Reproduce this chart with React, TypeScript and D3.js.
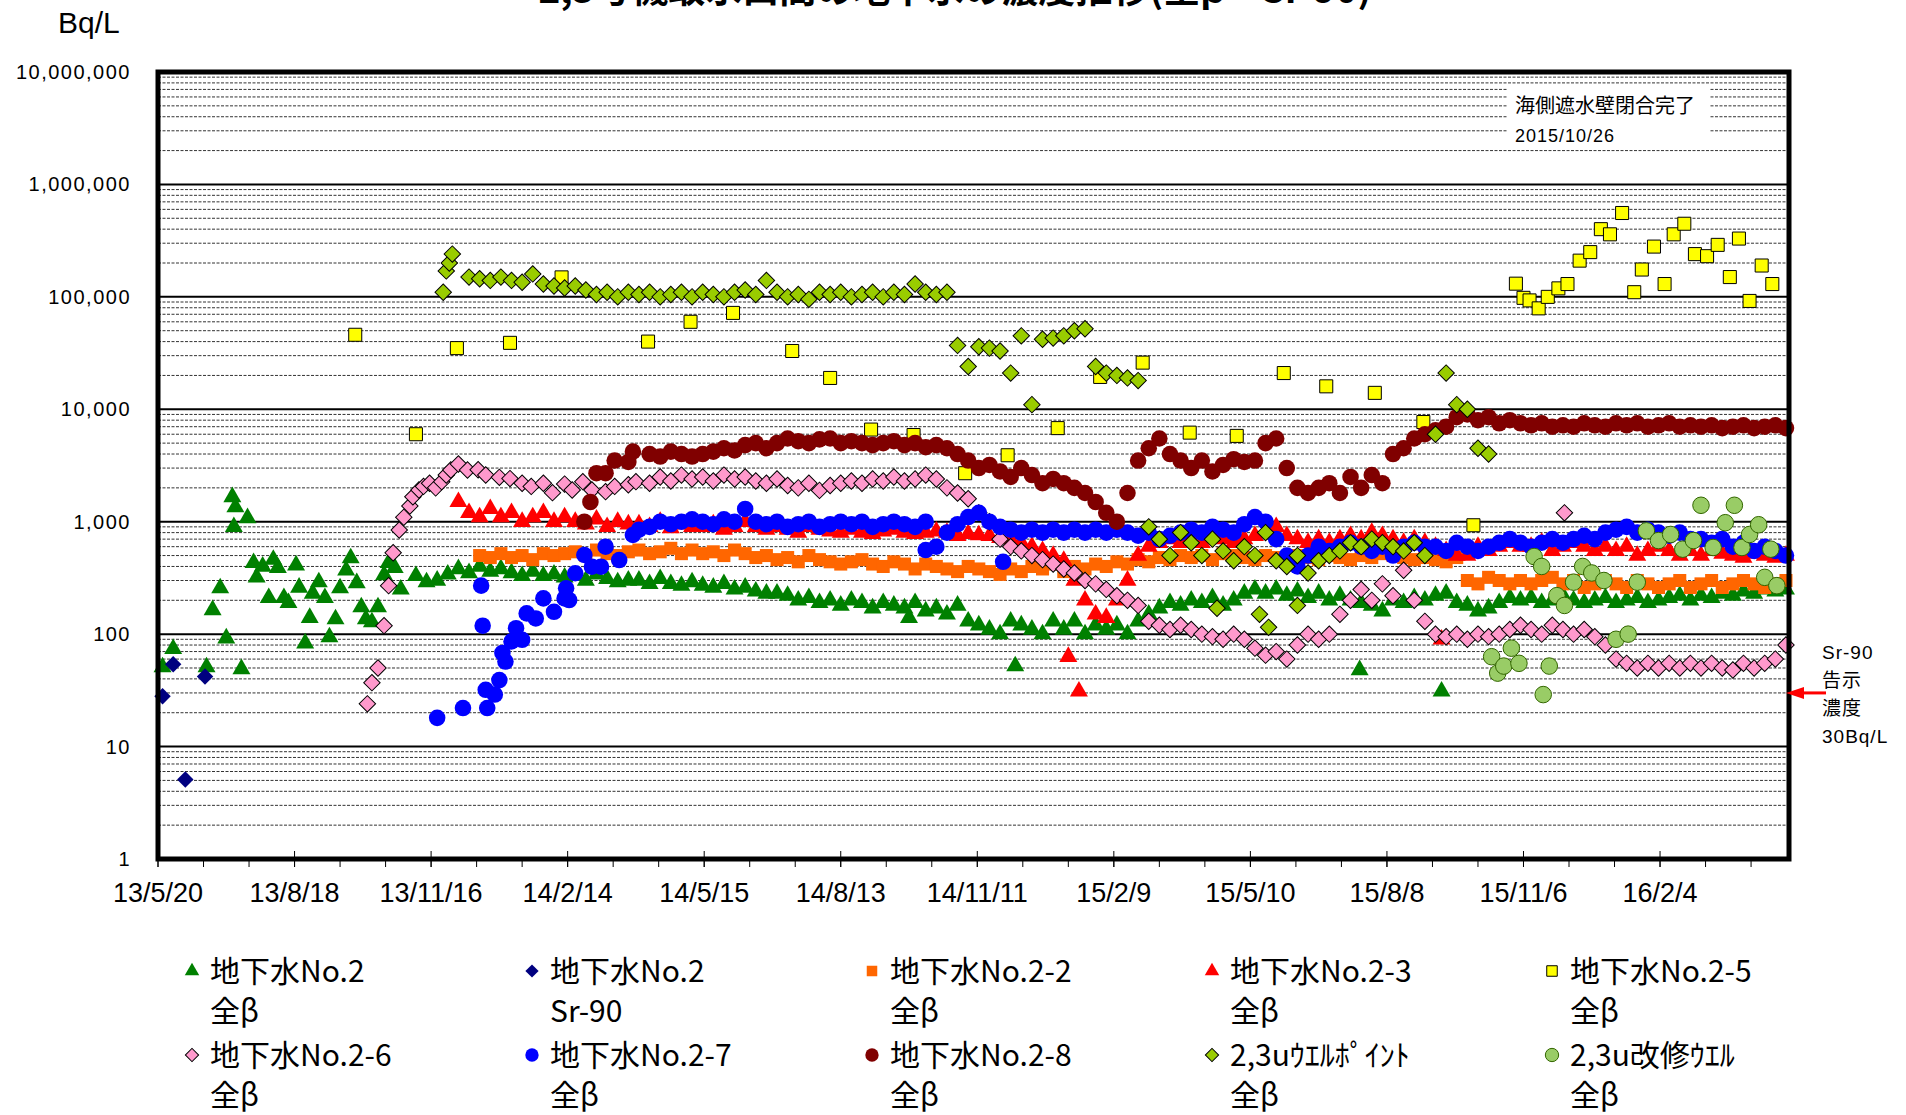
import React from 'react';
import * as d3 from 'd3';

// chart frame, page coords
const W = 1906;
const H = 1115;
const PL = 158, PR = 1789, PT = 72, PB = 859;

const X_START = "13/5/20";
const X_END = "16/4/29";
const X_TICKS = ["13/5/20", "13/8/18", "13/11/16", "14/2/14", "14/5/15", "14/8/13", "14/11/11", "15/2/9", "15/5/10", "15/8/8", "15/11/6", "16/2/4"];
const Y_TICKS = [1, 10, 100, 1000, 10000, 100000, 1000000, 10000000];

// weekly sampling dates shared by the dense series
const WEEKS = [
  "13/11/6", "13/11/13", "13/11/20", "13/11/27", "13/12/4", "13/12/11", "13/12/18", "13/12/25",
  "14/1/1", "14/1/8", "14/1/15", "14/1/22", "14/1/29", "14/2/5", "14/2/12", "14/2/19", "14/2/26", "14/3/5", "14/3/12", "14/3/19", "14/3/26",
  "14/4/2", "14/4/9", "14/4/16", "14/4/23", "14/4/30", "14/5/7", "14/5/14", "14/5/21", "14/5/28", "14/6/4", "14/6/11", "14/6/18", "14/6/25",
  "14/7/2", "14/7/9", "14/7/16", "14/7/23", "14/7/30", "14/8/6", "14/8/13", "14/8/20", "14/8/27", "14/9/3", "14/9/10", "14/9/17", "14/9/24",
  "14/10/1", "14/10/8", "14/10/15", "14/10/22", "14/10/29", "14/11/5", "14/11/12", "14/11/19", "14/11/26", "14/12/3", "14/12/10", "14/12/17", "14/12/24", "14/12/31",
  "15/1/7", "15/1/14", "15/1/21", "15/1/28", "15/2/4", "15/2/11", "15/2/18", "15/2/25", "15/3/4", "15/3/11", "15/3/18", "15/3/25",
  "15/4/1", "15/4/8", "15/4/15", "15/4/22", "15/4/29", "15/5/6", "15/5/13", "15/5/20", "15/5/27", "15/6/3", "15/6/10", "15/6/17", "15/6/24",
  "15/7/1", "15/7/8", "15/7/15", "15/7/22", "15/7/29", "15/8/5", "15/8/12", "15/8/19", "15/8/26", "15/9/2", "15/9/9", "15/9/16", "15/9/23", "15/9/30",
  "15/10/7", "15/10/14", "15/10/21", "15/10/28", "15/11/4", "15/11/11", "15/11/18", "15/11/25", "15/12/2", "15/12/9", "15/12/16", "15/12/23", "15/12/30",
  "16/1/6", "16/1/13", "16/1/20", "16/1/27", "16/2/3", "16/2/10", "16/2/17", "16/2/24", "16/3/2", "16/3/9", "16/3/16", "16/3/23", "16/3/30",
  "16/4/6", "16/4/13", "16/4/20", "16/4/27",
];

const _ = null;

// 地下水No.2 全β
const NO2_EARLY = [
  ["13/5/23", 51], ["13/5/30", 74], ["13/6/21", 51], ["13/6/25", 164], ["13/6/30", 257], ["13/7/4", 92], ["13/7/8", 1660],
  ["13/7/10", 1350], ["13/7/9", 900], ["13/7/18", 1080], ["13/7/14", 49], ["13/7/22", 430], ["13/7/24", 320], ["13/7/28", 400],
  ["13/8/1", 210], ["13/8/4", 460], ["13/8/7", 390], ["13/8/11", 210], ["13/8/14", 190], ["13/8/19", 410], ["13/8/21", 260],
  ["13/8/25", 83], ["13/8/28", 140], ["13/8/30", 230], ["13/9/3", 290], ["13/9/7", 210], ["13/9/10", 94], ["13/9/14", 136],
  ["13/9/17", 257], ["13/9/21", 370], ["13/9/24", 475], ["13/9/28", 285], ["13/10/1", 174], ["13/10/4", 136], ["13/10/8", 128],
  ["13/10/12", 174], ["13/10/16", 336], ["13/10/19", 430], ["13/10/23", 390], ["13/10/27", 250],
  ["14/9/27", 140], ["14/12/6", 52], ["15/7/21", 48], ["15/9/13", 31],
];
const NO2_WEEKLY = [
  330, 290, 300, 340, 380, 350, 400, 360,
  380, 350, 330, 360, 330, 340,
  320, 330, 300, 340, 310, 290, 300,
  300, 280, 310, 280, 270, 290,
  270, 260, 280, 250, 260, 240, 230,
  230, 220, 200, 210, 190, 200, 180,
  200, 190, 170, 190, 180, 170, 190, 160,
  170, 150, 180, 130, 120,
  110, 100, 130, 120, 110, 100, 130,
  110, 130, 100, 120, 110, 120,
  100, 130, 150, 170, 190, 180,
  200, 190, 210, 180, 200, 230, 250,
  230, 250, 220, 240, 210, 230, 200, 220,
  200, 190, 180, 160, 200, 190, 210, 200,
  220, 230, 190, 180, 160, 170, 190, 210, 200,
  210, 190, 200, 220, 200, 190, 200, 210,
  190, 200, 210, 190, 200, 210, 220, 200,
  220, 210, 230, 220, 240, 230, 250, 240, 250,
];

// 地下水No.2 Sr-90
const NO2_SR90 = [["13/5/23", 28], ["13/5/30", 54], ["13/6/7", 5.1], ["13/6/20", 42]];

// 地下水No.2-2 全β
const NO2_2_WEEKLY = [
  _, _, _, _, _, _, 500, 480,
  520, 480, 500, 460, 520, 500,
  520, 540, 500, 560, 520, 500, 540,
  560, 520, 540, 580, 520, 560,
  520, 540, 500, 560, 520, 480, 500,
  460, 480, 440, 500, 460, 440, 420,
  440, 460, 420, 400, 440, 420, 380, 420,
  400, 380, 360, 400, 380,
  360, 340, 380, 360, 400, 380, 420,
  360, 400, 380, 420, 400, 440,
  420, 460, 440, 480, 460, 500,
  480, 500, 460, 520, 500, 480, 460,
  500, 480, 460, 500, 480, 460, 500, 480,
  460, 500, 480, 520, 500, 480, 460, 480,
  460, 440, 480, 300, 280, 320, 300, 280, 300,
  280, 300, 320, 280, 300, 260, 280, 300,
  280, 260, 300, 280, 260, 280, 300, 260,
  280, 300, 260, 280, 300, 280, 260, 280, 300,
];

// 地下水No.2-3 全β
const NO2_3_EXTRA = [["15/1/10", 63], ["15/1/17", 31], ["15/9/13", 90]];
const NO2_3_WEEKLY = [
  _, _, _, _, 1500, 1200, 1100, 1300,
  1100, 1200, 1000, 1100, 1200, 1000,
  1100, 1000, 950, 1050, 900, 1000, 950,
  950, 900, 1000, 880, 950, 900,
  900, 950, 850, 900, 1000, 900, 850,
  900, 850, 800, 900, 850, 820, 800,
  850, 800, 780, 820, 850, 800, 780, 800,
  820, 800, 750, 780, 760,
  750, 720, 700, 650, 600, 550, 500,
  450, 300, 200, 150, 140, 200,
  300, 500, 600, 650, 700, 650,
  700, 650, 750, 700, 650, 700, 750,
  800, 900, 750, 700, 650, 700, 650, 700,
  750, 700, 800, 750, 700, 650, 700, 650,
  600, 550, 500, 500, 600, 550, 600, 650, 600,
  600, 650, 550, 600, 650, 600, 550, 600,
  550, 600, 500, 550, 600, 550, 500, 550,
  500, 550, 520, 500, 480, 520, 500, 480, 500,
];

// 地下水No.2-5 全β
const NO2_5 = [
  ["13/9/27", 46000], ["13/11/6", 6000], ["13/12/3", 35000], ["14/1/7", 39000], ["14/2/10", 149000], ["14/4/8", 40000],
  ["14/5/6", 60000], ["14/6/3", 72000], ["14/7/12", 33000], ["14/8/6", 19000], ["14/9/2", 6600], ["14/9/30", 5900],
  ["14/11/3", 2700], ["14/12/1", 3900], ["15/1/3", 6800], ["15/1/31", 19400], ["15/2/28", 26000], ["15/3/31", 6200],
  ["15/5/1", 5800], ["15/6/1", 21000], ["15/6/29", 16000], ["15/7/31", 14000], ["15/9/1", 7700], ["15/10/4", 930],
  ["15/11/1", 131000], ["15/11/6", 98000], ["15/11/10", 93000], ["15/11/16", 79000], ["15/11/22", 100000], ["15/11/29", 119000],
  ["15/12/5", 130000], ["15/12/13", 210000], ["15/12/20", 250000], ["15/12/27", 400000], ["16/1/2", 360000], ["16/1/10", 557000],
  ["16/1/18", 110000], ["16/1/23", 175000], ["16/1/31", 280000], ["16/2/7", 130000], ["16/2/13", 360000], ["16/2/20", 447000],
  ["16/2/27", 240000], ["16/3/6", 230000], ["16/3/13", 290000], ["16/3/21", 150000], ["16/3/27", 330000], ["16/4/3", 92000],
  ["16/4/11", 190000], ["16/4/18", 130000],
];

// 地下水No.2-6 全β
const NO2_6_EARLY = [
  ["13/10/5", 24], ["13/10/8", 37], ["13/10/12", 50], ["13/10/16", 119], ["13/10/19", 270], ["13/10/22", 530], ["13/10/26", 844],
  ["13/10/29", 1094], ["13/11/2", 1380], ["13/11/4", 1668], ["13/11/8", 1915], ["13/11/11", 2060], ["13/11/15", 2197],
  ["13/11/19", 2000], ["13/11/23", 2270], ["13/11/26", 2605], ["13/11/29", 2885], ["13/12/4", 3260], ["13/12/10", 2885],
  ["13/12/17", 2900], ["13/12/22", 2605], ["13/12/31", 2483], ["14/1/7", 2420], ["14/1/15", 2200], ["14/1/21", 2060],
  ["14/1/29", 2200], ["14/2/4", 1812], ["14/2/12", 2160], ["14/2/17", 1915], ["14/2/24", 2270], ["14/3/2", 1915],
  ["14/3/11", 1850], ["14/3/17", 2060], ["14/3/26", 2130], ["14/3/31", 2270], ["15/12/3", 1200],
];
const NO2_6_WEEKLY = [
  _, _, _, _, _, _, _, _,
  _, _, _, _, _, _,
  _, _, _, _, _, _, _,
  _, 2200, 2500, 2300, 2600, 2400,
  2500, 2300, 2600, 2400, 2500, 2300, 2200,
  2400, 2100, 2000, 2200, 1900, 2100, 2200,
  2300, 2200, 2400, 2300, 2500, 2300, 2400, 2600,
  2400, 2000, 1800, 1600, 1200,
  1000, 700, 600, 550, 500, 460, 420,
  380, 350, 300, 280, 250, 220,
  200, 180, 130, 120, 110, 120,
  110, 100, 95, 90, 100, 90, 75,
  65, 70, 60, 80, 100, 90, 100, 150,
  200, 250, 200, 280, 220, 370, 200, 130,
  100, 95, 100, 90, 100, 95, 100, 110, 120,
  110, 100, 120, 110, 100, 110, 95, 80,
  60, 55, 50, 55, 50, 55, 50, 55,
  50, 55, 50, 48, 55, 50, 55, 60, 80,
];

// 地下水No.2-7 全β
const NO2_7_EARLY = [
  ["13/11/20", 18], ["13/12/7", 22], ["13/12/19", 270], ["13/12/20", 119], ["13/12/23", 22], ["13/12/22", 32], ["13/12/28", 29],
  ["13/12/31", 39], ["14/1/4", 57], ["14/1/2", 68], ["14/1/8", 86], ["14/1/15", 89], ["14/1/11", 113], ["14/1/18", 153],
  ["14/1/24", 138], ["14/1/29", 208], ["14/2/5", 158], ["14/2/12", 208], ["14/2/15", 201], ["14/2/13", 256], ["14/2/19", 348],
  ["14/2/25", 506], ["14/3/2", 398], ["14/3/8", 398], ["14/3/11", 600], ["14/3/20", 456], ["14/3/29", 762],
  ["14/10/8", 560], ["14/11/28", 440],
];
const NO2_7_WEEKLY = [
  _, _, _, _, _, _, _, _,
  _, _, _, _, _, _,
  _, _, _, _, _, _, _,
  850, 900, 1000, 950, 1000, 1050,
  1000, 950, 1050, 1000, 1300, 1000, 950,
  1000, 900, 950, 1000, 900, 950, 1000,
  950, 1000, 900, 950, 1000, 950, 900, 1000,
  600, 800, 950, 1100, 1200,
  1000, 900, 850, 800, 850, 800, 850,
  800, 850, 800, 850, 800, 850,
  800, 750, 800, 700, 750, 800,
  850, 800, 900, 850, 800, 950, 1100,
  1000, 700, 500, 400, 500, 600, 550, 600,
  650, 600, 550, 600, 500, 600, 650, 600,
  600, 550, 650, 600, 550, 600, 650, 700, 650,
  600, 650, 700, 650, 700, 750, 700, 800,
  850, 900, 800, 850, 800, 750, 800, 700,
  700, 650, 700, 600, 650, 550, 600, 550, 500,
];

// 地下水No.2-8 全β
const NO2_8_EARLY = [["14/2/25", 1000], ["14/3/1", 1500], ["14/3/5", 2700], ["14/3/11", 2700], ["14/3/17", 3500], ["14/3/26", 3400], ["14/3/29", 4200]];
const NO2_8_WEEKLY = [
  _, _, _, _, _, _, _, _,
  _, _, _, _, _, _,
  _, _, _, _, _, _, _,
  _, 4000, 3800, 4200, 4000, 3800,
  4000, 4200, 4500, 4300, 4800, 5000, 4500,
  5000, 5500, 5200, 5000, 5400, 5500, 5000,
  5200, 5000, 4800, 5000, 5200, 4800, 5000, 4600,
  4800, 4500, 4000, 3500, 3000,
  3200, 2800, 2500, 3000, 2600, 2200, 2400,
  2200, 2000, 1800, 1500, 1200, 1000,
  1800, 3500, 4500, 5500, 4000, 3500,
  3000, 3500, 2800, 3200, 3600, 3400, 3500,
  5000, 5500, 3000, 2000, 1800, 2000, 2200, 1800,
  2500, 2000, 2600, 2200, 4000, 4500, 5500, 6000,
  6500, 7000, 8500, 9000, 8000, 8500, 7500, 8000, 7500,
  7200, 7500, 7000, 7200, 7000, 7500, 7200, 7000,
  7500, 7200, 7500, 7000, 7200, 7500, 7000, 7200,
  7000, 7200, 6800, 7000, 7200, 6800, 7000, 7200, 6800,
];

// 2,3uウエルポイント 全β
const WP_EXTRA = [
  ["13/11/24", 110000], ["13/11/26", 170000], ["13/11/28", 200000], ["13/11/30", 240000],
  ["15/4/18", 170], ["15/5/16", 150], ["15/5/22", 115], ["15/6/10", 180],
];
const WP_WEEKLY = [
  _, _, _, _, _, 150000, 145000, 140000,
  150000, 140000, 135000, 160000, 130000, 125000,
  120000, 125000, 115000, 105000, 110000, 100000, 110000,
  105000, 110000, 100000, 105000, 110000, 100000,
  110000, 105000, 100000, 110000, 115000, 105000, 140000,
  110000, 100000, 105000, 95000, 110000, 105000, 110000,
  100000, 105000, 110000, 100000, 110000, 105000, 130000, 110000,
  105000, 110000, 37000, 24000, 36000,
  35000, 33000, 21000, 45000, 11000, 42000, 43000,
  45000, 50000, 52000, 24000, 21000, 20000,
  19000, 18000, 900, 700, 500, 800,
  650, 500, 700, 550, 450, 600, 500,
  800, 450, 400, 500, 350, 450, 500, 550,
  650, 600, 700, 650, 600, 550, 650, 500,
  6000, 21000, 11000, 10000, 4500, 4000, _, _, _,
  _, _, _, _, _, _, _, _,
  _, _, _, _, _, _, _, _,
  _, _, _, _, _, _, _, _, _,
];

// 2,3u改修ウエル 全β
const KAISHU = [
  ["15/10/16", 63], ["15/10/20", 45], ["15/10/24", 52], ["15/10/29", 75], ["15/11/3", 55], ["15/11/13", 490], ["15/11/18", 400],
  ["15/11/19", 29], ["15/11/23", 52], ["15/11/28", 220], ["15/12/3", 180], ["15/12/9", 290], ["15/12/15", 400], ["15/12/21", 350],
  ["15/12/29", 300], ["16/1/6", 90], ["16/1/14", 100], ["16/1/20", 290], ["16/1/26", 830], ["16/2/3", 680], ["16/2/11", 770],
  ["16/2/19", 570], ["16/2/26", 680], ["16/3/2", 1400], ["16/3/10", 590], ["16/3/18", 980], ["16/3/24", 1400], ["16/3/29", 590],
  ["16/4/3", 770], ["16/4/9", 940], ["16/4/13", 320], ["16/4/17", 570], ["16/4/21", 270],
];

const parse = d3.timeParse("%y/%m/%d");

const fromPairs = (pairs) => pairs.map(([d, v]) => ({ date: parse(d), value: v }));
const fromWeekly = (vals) =>
  vals.map((v, i) => ({ date: parse(WEEKS[i]), value: v })).filter((p) => p.value != null);

const SERIES = [
  { l1: "地下水No.2", l2: "全β", shape: "tri", fill: "#008000", stroke: "none", pts: [...fromPairs(NO2_EARLY), ...fromWeekly(NO2_WEEKLY)] },
  { l1: "地下水No.2", l2: "Sr-90", shape: "dia", fill: "#000080", stroke: "none", pts: fromPairs(NO2_SR90) },
  { l1: "地下水No.2-2", l2: "全β", shape: "sq", fill: "#FF6600", stroke: "none", pts: fromWeekly(NO2_2_WEEKLY) },
  { l1: "地下水No.2-3", l2: "全β", shape: "tri", fill: "#FF0000", stroke: "none", pts: [...fromWeekly(NO2_3_WEEKLY), ...fromPairs(NO2_3_EXTRA)] },
  { l1: "地下水No.2-5", l2: "全β", shape: "sq", fill: "#FFFF00", stroke: "#000", pts: fromPairs(NO2_5) },
  { l1: "地下水No.2-6", l2: "全β", shape: "dia", fill: "#FF99CC", stroke: "#000", pts: [...fromPairs(NO2_6_EARLY), ...fromWeekly(NO2_6_WEEKLY)] },
  { l1: "地下水No.2-7", l2: "全β", shape: "circle", fill: "#0000FF", stroke: "none", pts: [...fromPairs(NO2_7_EARLY), ...fromWeekly(NO2_7_WEEKLY)] },
  { l1: "地下水No.2-8", l2: "全β", shape: "circle", fill: "#800000", stroke: "none", pts: [...fromPairs(NO2_8_EARLY), ...fromWeekly(NO2_8_WEEKLY)] },
  { l1: "2,3uｳｴﾙﾎﾟｲﾝﾄ", l2: "全β", shape: "dia", fill: "#99CC00", stroke: "#000", pts: [...fromPairs(WP_EXTRA), ...fromWeekly(WP_WEEKLY)] },
  { l1: "2,3u改修ｳｴﾙ", l2: "全β", shape: "circle", fill: "#99CC66", stroke: "#336600", pts: fromPairs(KAISHU) },
];

const symbolFor = (shape, big) => {
  const k = big ? 1 : 0.65;
  if (shape === "tri") return d3.symbol(d3.symbolTriangle, 140 * k)();
  if (shape === "sq") return d3.symbol(d3.symbolSquare, 170 * k)();
  if (shape === "dia") return d3.symbol(d3.symbolSquare, 135 * k)();
  return d3.symbol(d3.symbolCircle, 215 * k)();
};

const LATIN = '"Liberation Sans", Arial, "Noto Sans CJK JP", sans-serif';
const CJK = '"Noto Sans CJK JP", "Liberation Sans", sans-serif';

export default function App() {
  const x = d3.scaleTime().domain([parse(X_START), parse(X_END)]).range([PL, PR]);
  const y = d3.scaleLog().domain([1, 1e7]).range([PB, PT]);

  const minorY = [];
  Y_TICKS.slice(0, -1).forEach((t) => {
    for (let k = 2; k <= 9; k++) minorY.push(t * k);
  });
  const minorX = d3.range(0, 1080, 30).map((d) => d3.timeDay.offset(parse(X_START), d)).filter((d) => x(d) <= PR);
  const fmt = d3.format(",");
  const y30 = y(30);

  const legCols = [192, 532, 872, 1212, 1552];
  const legRows = [971, 1055];

  return (
    <div style={{ position: "absolute", left: 0, top: 0 }}>
      <svg width={W} height={H} xmlns="http://www.w3.org/2000/svg" style={{ display: "block", background: "#fff" }}>
        <rect x={0} y={0} width={W} height={H} fill="#fff" />
        <text x={955} y={3} textAnchor="middle" fontFamily={CJK} fontWeight="bold" fontSize={37}>
          2,3号機取水口間の地下水の濃度推移(全β・Sr-90)
        </text>
        <text x={58} y={33} fontFamily={LATIN} fontSize={30}>Bq/L</text>

        {/* grid */}
        {minorY.map((v) => (
          <line key={"m" + v} x1={PL} x2={PR} y1={y(v)} y2={y(v)} stroke="#333" strokeWidth={1} strokeDasharray="3,1.5" />
        ))}
        {Y_TICKS.map((v) => (
          <line key={"g" + v} x1={PL} x2={PR} y1={y(v)} y2={y(v)} stroke="#000" strokeWidth={2} />
        ))}

        {/* annotation box */}
        <rect x={1508} y={86} width={202} height={60} fill="#fff" />
        <text x={1515} y={113} fontFamily={CJK} fontSize={20}>海側遮水壁閉合完了</text>
        <text x={1515} y={142} fontFamily={LATIN} fontSize={18} letterSpacing={1}>2015/10/26</text>

        {/* data */}
        {SERIES.map((s, si) => (
          <g key={si}>
            {s.pts.map((p, i) => (
              <path
                key={i}
                d={symbolFor(s.shape, true)}
                transform={`translate(${x(p.date)},${y(p.value)})${s.shape === "dia" ? " rotate(45)" : ""}`}
                fill={s.fill}
                stroke={s.stroke}
                strokeWidth={s.stroke === "none" ? 0 : 1}
              />
            ))}
          </g>
        ))}

        {/* frame */}
        <rect x={PL} y={PT} width={PR - PL} height={PB - PT} fill="none" stroke="#000" strokeWidth={5} />

        {/* x ticks */}
        {minorX.map((d, i) => (
          <line key={"mx" + i} x1={x(d)} x2={x(d)} y1={PB} y2={PB + 8} stroke="#000" strokeWidth={1} />
        ))}
        {X_TICKS.map((t) => (
          <g key={t}>
            <line x1={x(parse(t))} x2={x(parse(t))} y1={PB - 8} y2={PB + 8} stroke="#000" strokeWidth={1} />
            <text x={x(parse(t))} y={902} textAnchor="middle" fontFamily={LATIN} fontSize={27}>{t}</text>
          </g>
        ))}
        {Y_TICKS.map((v) => (
          <text key={"yl" + v} x={131} y={y(v) + 7} textAnchor="end" fontFamily={LATIN} fontSize={20} letterSpacing={1.5}>
            {fmt(v)}
          </text>
        ))}

        {/* Sr-90 notice level */}
        <line x1={1826} x2={1800} y1={y30} y2={y30} stroke="#FF0000" strokeWidth={3} />
        <path d={`M${PR - 3},${y30}L${1804},${y30 - 6}L${1804},${y30 + 6}Z`} fill="#FF0000" />
        {["Sr-90", "告示", "濃度", "30Bq/L"].map((t, i) => (
          <text key={t} x={1822} y={659 + i * 28} fontFamily={LATIN} fontSize={19} letterSpacing={1}>{t}</text>
        ))}

        {/* legend */}
        {SERIES.map((s, i) => {
          const cx = legCols[i % 5];
          const cy = legRows[Math.floor(i / 5)];
          return (
            <g key={"lg" + i}>
              <path
                d={symbolFor(s.shape, false)}
                transform={`translate(${cx},${cy})${s.shape === "dia" ? " rotate(45)" : ""}`}
                fill={s.fill}
                stroke={s.stroke}
                strokeWidth={s.stroke === "none" ? 0 : 1}
              />
              <text x={cx + 18} y={cy + 11} fontFamily={CJK} fontSize={30}>{s.l1}</text>
              <text x={cx + 18} y={cy + 51} fontFamily={CJK} fontSize={30}>{s.l2}</text>
            </g>
          );
        })}
      </svg>
    </div>
  );
}
